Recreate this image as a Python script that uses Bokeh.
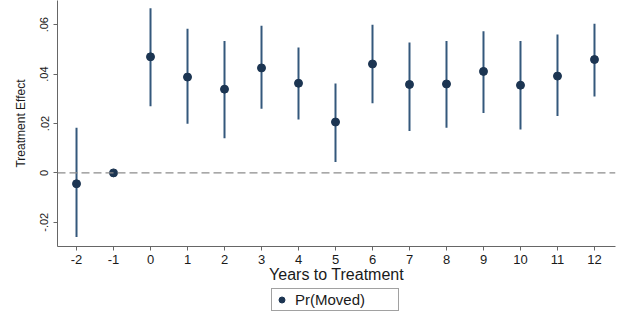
from bokeh.plotting import figure
from bokeh.layouts import column
from bokeh.models import ColumnDataSource, Span, FixedTicker, Legend, LegendItem, Range1d
from bokeh.embed import file_html
from bokeh.resources import INLINE

# ---- data ----
years = [-2, -1, 0, 1, 2, 3, 4, 5, 6, 7, 8, 9, 10, 11, 12]
effect = [-0.0044, 0.0, 0.0470, 0.0388, 0.0339, 0.0425, 0.0363, 0.0206,
          0.0441, 0.0358, 0.0360, 0.0411, 0.0355, 0.0392, 0.0459]
ci_low = [-0.0260, 0.0, 0.0270, 0.0199, 0.0140, 0.0260, 0.0216, 0.0044,
          0.0282, 0.0170, 0.0183, 0.0243, 0.0176, 0.0230, 0.0309]
ci_high = [0.0183, 0.0, 0.0667, 0.0584, 0.0534, 0.0596, 0.0508, 0.0362,
           0.0600, 0.0528, 0.0534, 0.0574, 0.0534, 0.0560, 0.0604]
x_ticks = years
x_tick_labels = ["-2", "-1", "0", "1", "2", "3", "4", "5", "6", "7", "8",
                 "9", "10", "11", "12"]
y_ticks = [-0.02, 0.0, 0.02, 0.04, 0.06]
y_tick_labels = ["-.02", "0", ".02", ".04", ".06"]
series_name = "Pr(Moved)"

FONT = "Liberation Sans"
TXT = "#1a1a1a"
src = ColumnDataSource(dict(x=years, y=effect, lo=ci_low, hi=ci_high))

p = figure(width=629, height=285, output_backend="svg", toolbar_location=None,
           x_range=Range1d(-2.514, 12.568), y_range=Range1d(-0.0298, 0.0698),
           min_border_left=57, min_border_right=14, min_border_top=0,
           min_border_bottom=34)
p.outline_line_color = None
p.xgrid.visible = False
p.ygrid.visible = False
p.background_fill_color = "white"
p.border_fill_color = "white"

zero = Span(location=0, dimension="width", line_color="#8c8c8c",
            line_dash="8 4", line_width=1.4)
p.add_layout(zero)

p.segment(x0="x", y0="lo", x1="x", y1="hi", source=src,
          line_color="#34587c", line_width=2)
p.scatter(x="x", y="y", source=src, size=8, marker="circle",
          fill_color="#1c3552", line_color="#1c3552")

# axes
p.xaxis.ticker = FixedTicker(ticks=x_ticks)
p.xaxis.major_label_overrides = {t: l for t, l in zip(x_ticks, x_tick_labels)}
p.yaxis.ticker = FixedTicker(ticks=y_ticks)
p.yaxis.major_label_overrides = {t: l for t, l in zip(y_ticks, y_tick_labels)}
p.yaxis.major_label_orientation = "vertical"
for ax in (p.xaxis[0], p.yaxis[0]):
    ax.axis_line_color = "#666666"
    ax.major_tick_line_color = "#666666"
    ax.major_tick_in = 0
    ax.major_tick_out = 4
    ax.minor_tick_line_color = None
    ax.major_label_text_font = FONT
    ax.axis_label_text_font = FONT
    ax.axis_label_text_font_style = "normal"
    ax.major_label_text_color = TXT
    ax.axis_label_text_color = TXT

p.xaxis.axis_label = "Years to Treatment"
p.xaxis.major_label_text_font_size = "13px"
p.xaxis.axis_label_text_font_size = "16px"
p.xaxis.major_label_standoff = 4
p.xaxis.axis_label_standoff = -1

p.yaxis.axis_label = "Treatment Effect"
p.yaxis.major_label_text_font_size = "11px"
p.yaxis.axis_label_text_font_size = "12px"
p.yaxis.major_label_standoff = 5
p.yaxis.axis_label_standoff = 10

# legend strip below the chart (its frame is aligned with the chart frame)
p2 = figure(width=629, height=30, output_backend="svg", toolbar_location=None,
            x_range=Range1d(100, 101), y_range=Range1d(100, 101),
            x_axis_type=None, y_axis_type=None,
            min_border_left=0, min_border_right=0, min_border_top=0,
            min_border_bottom=0)
p2.outline_line_color = None
p2.background_fill_color = "white"
p2.border_fill_color = "white"
leg_r = p2.scatter(x="x", y="y", source=src, size=6, marker="circle",
                   fill_color="#1c3552", line_color="#1c3552")
legend = Legend(items=[LegendItem(label=series_name, renderers=[leg_r])],
                orientation="horizontal", location=(214, 4),
                label_text_font=FONT, label_text_font_size="15px",
                label_text_color=TXT,
                glyph_width=15, glyph_height=15, label_standoff=6,
                label_width=101, label_height=15,
                padding=2, margin=0, border_line_color="#444444",
                border_line_width=1, background_fill_alpha=1.0)
p2.add_layout(legend, "center")

layout = column(p, p2, spacing=0)
open("out.html", "w").write(file_html(layout, INLINE))
